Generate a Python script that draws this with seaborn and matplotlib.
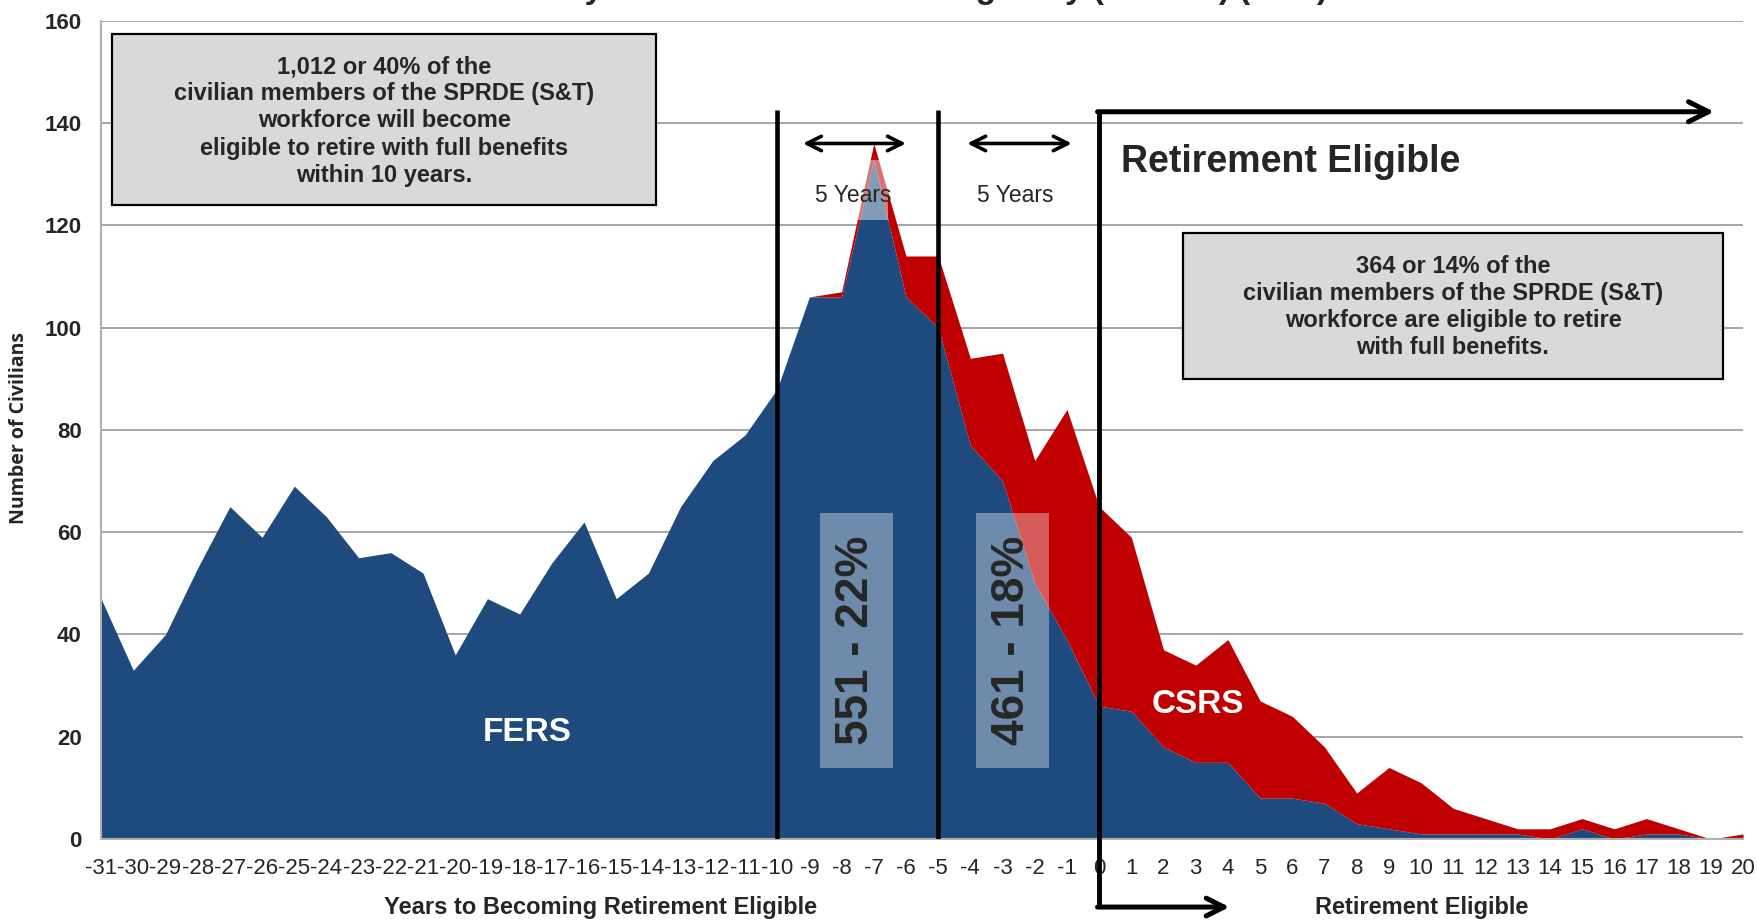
"""
SPRDE (S&T) civilians by years to retirement eligibility, FERS vs CSRS stacked area.
"""

import matplotlib
matplotlib.use('Agg')
import matplotlib.pyplot as plt
from matplotlib.patches import Rectangle
import seaborn as sns


# Data
years = list(range(-31, 21))
fers = [47, 33, 40, 53, 65, 59, 69, 63, 55, 56, 52, 36, 47, 44, 54, 62, 47, 52, 65, 74, 79, 88,
        106, 106, 133, 106, 100, 77, 70, 50, 39,
        26, 25, 18, 15, 15, 8, 8, 7, 3, 2, 1, 1, 1, 1, 0, 2, 0, 1, 1, 0, 0]
csrs = [0] * 22 + [0, 1, 3, 8, 14, 17, 25, 24, 45,
                   39, 34, 19, 19, 24, 19, 16, 11, 6, 12, 10, 5, 3, 1, 2, 2, 2, 3, 1, 0, 1]
series_names = ['FERS', 'CSRS']
y_ticks = [0, 20, 40, 60, 80, 100, 120, 140, 160]

left_box_text = ('1,012 or 40% of the\ncivilian members of the SPRDE (S&T)\n'
                 'workforce will become\neligible to retire with full benefits\nwithin 10 years.')
right_box_text = ('364 or 14% of the\ncivilian members of the SPRDE (S&T)\n'
                  'workforce are eligible to retire\nwith full benefits.')
band_labels = ['551 - 22%', '461 - 18%']
title = 'Civilians by Years to Retirement Eligibility (SPRDE) (S&T)'

BLUE = '#1F4A7D'
RED = '#C00000'
GRID = '#A6A6A6'

sns.set_style("white")
plt.rcParams['font.family'] = ['Liberation Sans', 'DejaVu Sans']

fig = plt.figure(figsize=(17.58, 9.21), dpi=100)
ax = fig.add_axes([0.0575, 0.0890, 0.9340, 0.8885])

ax.stackplot(years, fers, csrs, colors=[BLUE, RED], labels=series_names,
             linewidth=0, zorder=2)

ax.set_xlim(-31, 20)
ax.set_ylim(0, 160)
ax.set_yticks(y_ticks)
ax.set_xticks(years)
ax.set_xticklabels([str(y) for y in years], fontsize=16)
ax.tick_params(axis='x', length=5, width=1.2, color=GRID, pad=9)
ax.tick_params(axis='y', length=0, pad=14)
for lab in ax.get_yticklabels():
    lab.set_fontsize(16)
    lab.set_fontweight('bold')

ax.yaxis.grid(True, color=GRID, linewidth=1.4, zorder=0)
ax.set_axisbelow(True)
sns.despine(ax=ax, top=True, right=True)
for side in ['left', 'bottom']:
    ax.spines[side].set_color('#B0B0B0')
    ax.spines[side].set_linewidth(1.5)

# title sits mostly above the canvas, as in the source slide
fig.text(0.237, 1.002, title, ha='left', va='baseline', fontsize=24, fontweight='bold')

fig.text(0.011, 0.535, 'Number of Civilians', rotation=90, ha='center', va='center',
         fontsize=14, fontweight='bold', family=['Open Sans', 'DejaVu Sans'])
ax.text(-15.5, -13.3, 'Years to Becoming Retirement Eligible', ha='center', va='center',
        fontsize=17, fontweight='bold', clip_on=False)
ax.text(10.03, -13.3, 'Retirement Eligible', ha='center', va='center',
        fontsize=17, fontweight='bold', clip_on=False)

# 10 / 5 year markers
for xv in [-10, -5]:
    ax.plot([xv, xv], [0, 142.5], color='black', lw=3.3, zorder=5, solid_capstyle='butt')

# retirement eligible bracket
ax.plot([0, 0], [142.2, -13.3], color='black', lw=3.5, zorder=6, clip_on=False,
        solid_capstyle='butt')
ax.annotate('', xy=(19.1, 142.2), xytext=(-0.05, 142.2),
            arrowprops=dict(arrowstyle='->', lw=3.6, color='black', mutation_scale=36,
                            shrinkA=0, shrinkB=0), zorder=6)
ax.annotate('', xy=(4.05, -13.3), xytext=(-0.05, -13.3), annotation_clip=False,
            arrowprops=dict(arrowstyle='->', lw=3.6, color='black', mutation_scale=32,
                            shrinkA=0, shrinkB=0), zorder=6)
ax.text(0.68, 132.4, 'Retirement Eligible', ha='left', va='center',
        fontsize=27, fontweight='bold', zorder=6)

# 5 year spans
for x0, x1 in [(-9.2, -6.0), (-4.1, -0.85)]:
    ax.annotate('', xy=(x1, 136), xytext=(x0, 136),
                arrowprops=dict(arrowstyle='<->', lw=2.6, color='black', mutation_scale=26,
                                shrinkA=0, shrinkB=0), zorder=6)
ax.add_patch(Rectangle((-8.7, 121.0), 2.15, 11.8, facecolor='white', alpha=0.45,
                       edgecolor='none', zorder=3))
ax.text(-7.65, 125.8, '5 Years', ha='center', va='center', fontsize=16.5, zorder=6)
ax.text(-2.6, 125.8, '5 Years', ha='center', va='center', fontsize=16.5, zorder=6)

# translucent count bands
for (bx0, bx1), lab in zip([(-8.68, -6.41), (-3.82, -1.57)], band_labels):
    ax.add_patch(Rectangle((bx0, 13.9), bx1 - bx0, 49.8, facecolor='white', alpha=0.36,
                           edgecolor='none', zorder=3))
    ax.text((bx0 + bx1) / 2, 38.8, lab, rotation=90, ha='center', va='center',
            fontsize=33, fontweight='bold', zorder=6)

# series labels
ax.text(-17.75, 20.8, 'FERS', color='white', ha='center', va='center',
        fontsize=24, fontweight='bold', zorder=6)
ax.text(3.05, 26.3, 'CSRS', color='white', ha='center', va='center',
        fontsize=24, fontweight='bold', zorder=6)

# callout boxes
ax.add_patch(Rectangle((-30.66, 124.0), 16.9, 33.4, facecolor='#D9D9D9', edgecolor='black',
                       lw=1.6, zorder=4))
ax.text(-22.21, 140.4, left_box_text, ha='center', va='center', fontsize=17,
        fontweight='bold', linespacing=1.23, zorder=6)
ax.add_patch(Rectangle((2.59, 90.0), 16.8, 28.5, facecolor='#D9D9D9', edgecolor='black',
                       lw=1.6, zorder=4))
ax.text(10.99, 104.0, right_box_text, ha='center', va='center', fontsize=17,
        fontweight='bold', linespacing=1.23, zorder=6)

fig.savefig('out.png', dpi=100)
